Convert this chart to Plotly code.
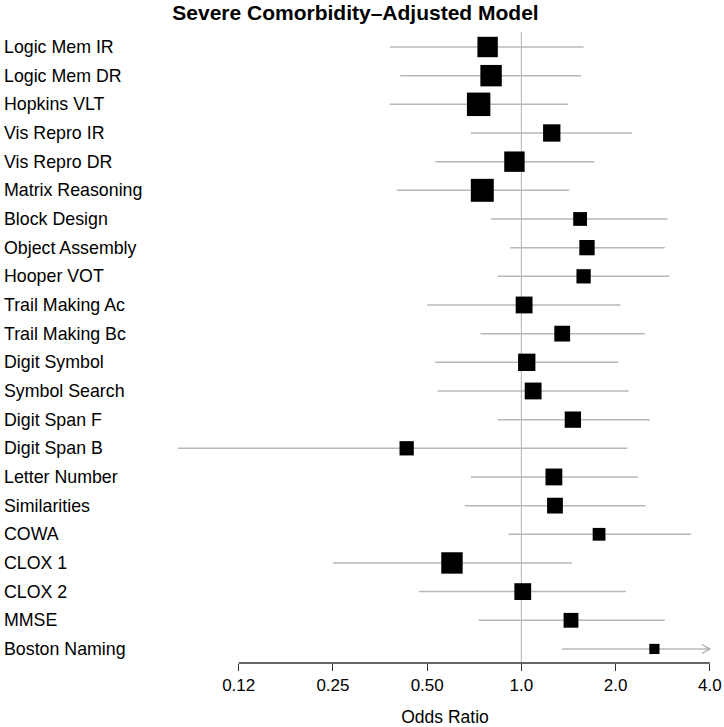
import math
import plotly.graph_objects as go

labels = ["Logic Mem IR", "Logic Mem DR", "Hopkins VLT", "Vis Repro IR", "Vis Repro DR",
          "Matrix Reasoning", "Block Design", "Object Assembly", "Hooper VOT",
          "Trail Making Ac", "Trail Making Bc", "Digit Symbol", "Symbol Search",
          "Digit Span F", "Digit Span B", "Letter Number", "Similarities", "COWA",
          "CLOX 1", "CLOX 2", "MMSE", "Boston Naming"]
odds_ratio = [0.78, 0.80, 0.73, 1.25, 0.95, 0.75, 1.54, 1.62, 1.58, 1.02, 1.35, 1.04,
              1.09, 1.46, 0.43, 1.27, 1.28, 1.77, 0.60, 1.01, 1.44, 2.66]
ci_low = [0.38, 0.41, 0.38, 0.69, 0.53, 0.40, 0.80, 0.92, 0.84, 0.50, 0.74, 0.53,
          0.54, 0.84, 0.08, 0.69, 0.66, 0.91, 0.25, 0.47, 0.73, 1.35]
ci_high = [1.58, 1.55, 1.41, 2.26, 1.71, 1.42, 2.93, 2.87, 2.97, 2.07, 2.48, 2.04,
           2.20, 2.57, 2.18, 2.36, 2.49, 3.48, 1.45, 2.16, 2.87, 5.20]
weights = [2.0, 2.1, 2.3, 1.7, 2.0, 2.25, 1.35, 1.5, 1.4, 1.65, 1.55, 1.7, 1.65,
           1.6, 1.4, 1.65, 1.55, 1.25, 2.1, 1.65, 1.45, 1.0]
tick_vals = [0.125, 0.25, 0.5, 1.0, 2.0, 4.0]
tick_text = ["0.12", "0.25", "0.50", "1.0", "2.0", "4.0"]

FONT = "Liberation Sans, Arial, Helvetica, sans-serif"
LINE_COL = "#b8b8b8"
xmax = tick_vals[-1]
xmin = tick_vals[0]

fig = go.Figure()

annotations = []
shapes = []
for i, (lab, est, lo, hi) in enumerate(zip(labels, odds_ratio, ci_low, ci_high)):
    hi_draw = min(hi, xmax)
    fig.add_trace(go.Scatter(x=[lo, hi_draw], y=[i, i], mode="lines",
                             line=dict(color=LINE_COL, width=1.5),
                             showlegend=False, hoverinfo="skip"))
    if hi > xmax:
        # open chevron arrow head at the clipped end
        shapes.append(dict(type="path", xref="x", yref="y",
                           xsizemode="pixel", ysizemode="pixel",
                           xanchor=xmax, yanchor=i,
                           path="M -8,-4.5 L 0,0 L -8,4.5",
                           line=dict(color="#a8a8a8", width=1.3)))
    annotations.append(dict(x=0, xref="paper", xanchor="left", y=i, yref="y",
                            xshift=-168, text=lab, showarrow=False,
                            font=dict(family=FONT, size=17.8, color="black")))

fig.add_trace(go.Scatter(x=odds_ratio, y=list(range(len(labels))), mode="markers",
                         opacity=1,
                         marker=dict(symbol="square", color="#000000", opacity=1,
                                     size=[w * 10.2 for w in weights],
                                     line=dict(width=0, color="#000000")),
                         showlegend=False))

# reference line at OR = 1
shapes.append(dict(type="line", x0=1, x1=1, xref="x", y0=0, y1=1, yref="paper",
                   line=dict(color="#bdbdbd", width=1.2), layer="below"))
# axis line spanning tick range
shapes.append(dict(type="line", x0=xmin, x1=xmax, xref="x", y0=0, y1=0, yref="paper",
                   line=dict(color="#333333", width=1.3)))

x_left = -1.1226
x_right = 0.6344

fig.update_layout(
    width=724, height=727,
    margin=dict(l=170, r=4, t=32, b=64, autoexpand=False),
    plot_bgcolor="white", paper_bgcolor="white",
    title=dict(text="<b>Severe Comorbidity\u2013Adjusted Model</b>", x=0.491, xanchor="center",
               yref="container", y=0.982, yanchor="middle",
               font=dict(family=FONT, size=21, color="black")),
    xaxis=dict(type="log", range=[x_left, x_right], tickvals=tick_vals, ticktext=tick_text,
               ticks="outside", ticklen=7, tickwidth=1.3, tickcolor="#333333",
               showgrid=False, zeroline=False, showline=False, automargin=False,
               tickfont=dict(family=FONT, size=17, color="black"),
               title=dict(text="Odds Ratio", font=dict(family=FONT, size=17.5, color="black"),
                          standoff=17)),
    yaxis=dict(range=[21.49, -0.523], showticklabels=False, showgrid=False,
               zeroline=False, showline=False, ticks="", automargin=False),
    annotations=annotations,
    shapes=shapes,
)

fig.write_html("out.html", config={"displayModeBar": False},
               post_script="document.body.style.margin='0';document.body.style.padding='0';")
